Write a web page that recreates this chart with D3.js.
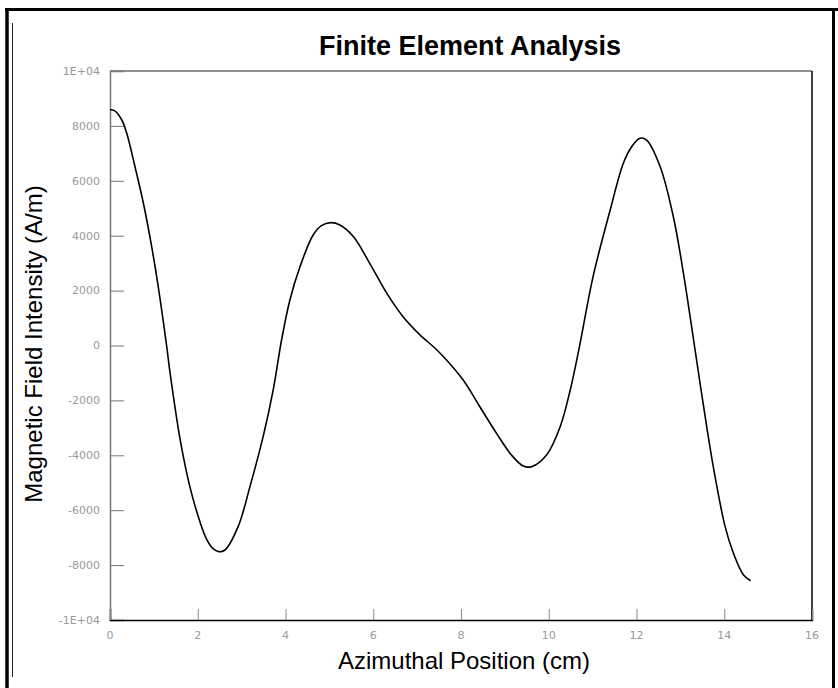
<!DOCTYPE html>
<html>
<head>
<meta charset="utf-8">
<script src="https://cdn.jsdelivr.net/npm/d3@7"></script>
<style>
  body { margin: 0; background: #fff; }
  .tick-label { font-family: "DejaVu Sans", sans-serif; font-size: 11px; fill: #999; }
  .axis-label { font-family: "Liberation Sans", Arial, sans-serif; font-size: 24px; fill: #000; }
</style>
</head>
<body>
<script>
// Curve (position in cm, field in A/m)
const posCm = [0, 0.11, 0.27, 0.38, 0.57, 0.76, 0.95, 1.10, 1.29, 1.37, 1.60, 1.82, 2.05, 2.20, 2.35, 2.48, 2.62,
  2.92, 3.19, 3.49, 3.72, 3.91, 4.10, 4.33, 4.63, 4.82, 5.03, 5.24, 5.55, 5.92, 6.31, 6.68, 7.07, 7.41, 7.67,
  8.05, 8.43, 8.81, 9.15, 9.42, 9.61, 9.95, 10.26, 10.49, 10.70, 11.01, 11.40, 11.70, 11.89, 12.08, 12.23,
  12.54, 12.84, 13.07, 13.32, 13.53, 13.75, 14.02, 14.21, 14.44, 14.60];
const fieldAm = [8600, 8550, 8215, 7740, 6510, 5190, 3600, 2140, 0, -1010, -3440, -5140, -6420, -7050, -7400, -7510, -7450,
  -6600, -5140, -3320, -1620, 200, 1660, 2870, 4025, 4365, 4475, 4390, 3965, 2995, 1900, 1050, 380, -100, -530,
  -1260, -2230, -3200, -3990, -4390, -4415, -3990, -2960, -1620, -40, 2510, 4935, 6640, 7240, 7550, 7485,
  6515, 4690, 2630, 0, -2230, -4415, -6600, -7570, -8360, -8570];

const xTicks = [0, 2, 4, 6, 8, 10, 12, 14, 16];
const yTicks = [-10000, -8000, -6000, -4000, -2000, 0, 2000, 4000, 6000, 8000, 10000];

const svgWidth = 838;
const svgHeight = 688;
const margin = { top: 71, right: 26, bottom: 68, left: 110 };
const chartWidth = svgWidth - margin.left - margin.right;
const chartHeight = svgHeight - margin.top - margin.bottom;

const svg = d3.select("body")
  .append("svg")
  .attr("width", svgWidth)
  .attr("height", svgHeight);

// page frame
svg.append("line").attr("x1", 5).attr("x2", 838).attr("y1", 9.5).attr("y2", 9.5)
  .attr("stroke", "#000").attr("stroke-width", 3);
svg.append("line").attr("x1", 7).attr("x2", 7).attr("y1", 8).attr("y2", 688)
  .attr("stroke", "#000").attr("stroke-width", 3.5);
svg.append("line").attr("x1", 12.5).attr("x2", 12.5).attr("y1", 23).attr("y2", 677)
  .attr("stroke", "#222").attr("stroke-width", 1);
svg.append("line").attr("x1", 833.5).attr("x2", 833.5).attr("y1", 8).attr("y2", 688)
  .attr("stroke", "#000").attr("stroke-width", 3);

const chartGroup = svg.append("g")
  .attr("transform", `translate(${margin.left},${margin.top})`);

const xScale = d3.scaleLinear().domain([0, 16]).range([0, chartWidth]);
const yScale = d3.scaleLinear().domain([-10000, 10000]).range([chartHeight, 0]);

const fmtY = v => Math.abs(v) === 10000 ? (v < 0 ? "-1E+04" : "1E+04") : String(v);

// plot box
chartGroup.append("line").attr("x1", 0).attr("x2", chartWidth).attr("y1", 0).attr("y2", 0)
  .attr("stroke", "#222").attr("stroke-width", 1);
chartGroup.append("line").attr("x1", chartWidth).attr("x2", chartWidth).attr("y1", 0).attr("y2", chartHeight)
  .attr("stroke", "#000").attr("stroke-width", 1.5);

// y axis, ticks pointing inward
const yAxis = chartGroup.append("g")
  .call(d3.axisRight(yScale).tickValues(yTicks).tickSize(14).tickFormat(""));
yAxis.select(".domain").attr("stroke", "#777").attr("stroke-width", 1.5);
yAxis.selectAll(".tick line").attr("stroke", "#777");
chartGroup.selectAll(".ylab")
  .data(yTicks)
  .join("text")
  .attr("class", "tick-label")
  .attr("x", -10)
  .attr("y", d => yScale(d))
  .attr("dy", "0.35em")
  .attr("text-anchor", "end")
  .text(fmtY);

// x axis, ticks pointing up
const xAxis = chartGroup.append("g")
  .attr("transform", `translate(0,${chartHeight})`)
  .call(d3.axisTop(xScale).tickValues(xTicks).tickSize(11).tickFormat(""));
xAxis.select(".domain").attr("stroke", "#000").attr("stroke-width", 1.5);
xAxis.selectAll(".tick line").attr("stroke", "#888");
chartGroup.selectAll(".xlab")
  .data(xTicks)
  .join("text")
  .attr("class", "tick-label")
  .attr("x", d => xScale(d))
  .attr("y", chartHeight + 19)
  .attr("text-anchor", "middle")
  .text(d => d);

// curve
const pts = posCm.map((x, i) => [x, fieldAm[i]]);
const line = d3.line()
  .x(d => xScale(d[0]))
  .y(d => yScale(d[1]))
  .curve(d3.curveCatmullRom);
chartGroup.append("path")
  .datum(pts)
  .attr("fill", "none")
  .attr("stroke", "#000")
  .attr("stroke-width", 1.6)
  .attr("d", line);

// titles
svg.append("text")
  .attr("x", 470)
  .attr("y", 55)
  .attr("text-anchor", "middle")
  .style("font-family", "'Liberation Sans', Arial, sans-serif")
  .style("font-weight", "bold")
  .style("font-size", "27px")
  .text("Finite Element Analysis");

svg.append("text")
  .attr("class", "axis-label")
  .attr("x", 464)
  .attr("y", 669)
  .attr("text-anchor", "middle")
  .text("Azimuthal Position (cm)");

svg.append("text")
  .attr("class", "axis-label")
  .attr("transform", "rotate(-90)")
  .attr("x", -344)
  .attr("y", 42)
  .attr("text-anchor", "middle")
  .text("Magnetic Field Intensity (A/m)");
</script>
</body>
</html>
